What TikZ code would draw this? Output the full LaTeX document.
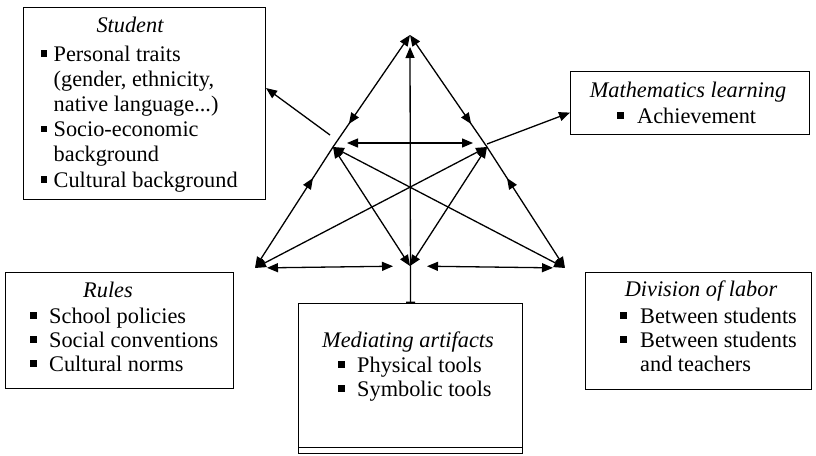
\documentclass[tikz,border=0pt]{standalone}
\usepackage{fontspec}
\setmainfont{Liberation Serif}
\usetikzlibrary{arrows.meta,calc,decorations.markings}
\newcommand\bul[1]{\rule[4.5pt]{6.5pt}{6.5pt}\hspace*{#1}}
\newcommand\bigfont{\fontsize{22.3}{25}\selectfont}
\tikzset{
  ln/.style={line width=1.3pt, draw=black},
  arr/.style={-{Triangle[length=11pt,width=9pt]}},
  arrboth/.style={{Triangle[length=11pt,width=9pt]}-{Triangle[length=11pt,width=9pt]}},
  tipat/.style={postaction=decorate, decoration={markings, mark=at position #1 with {\arrowreversed{Triangle[length=11pt,width=9pt]}}}},
  boxnode/.style={draw, line width=1pt, anchor=north west, inner sep=0pt},
  ttl/.style={anchor=base, inner sep=0pt, font=\bigfont\itshape},
  itm/.style={anchor=base west, inner sep=0pt, font=\bigfont},
}
\begin{document}
\begin{tikzpicture}[x=1pt, y=-1pt]
\useasboundingbox (0,0) rectangle (816,455);
% boxes
\node[boxnode, minimum width=242pt, minimum height=192pt] (student) at (23,7) {};
\node[boxnode, minimum width=239pt, minimum height=63pt] (math) at (570,71) {};
\node[boxnode, minimum width=228pt, minimum height=116pt] (rules) at (5,272) {};
\node[boxnode, minimum width=226pt, minimum height=117pt] (div) at (585,272) {};
\node[boxnode, minimum width=224pt, minimum height=150pt] (med) at (298,303) {};
\draw[line width=1pt] ($(med.south west)+(0,-7)$) -- ($(med.south east)+(0,-7)$);
% Student text
\node[ttl] (st0) at (130,32) {Student};
\node[itm] (st1) at (40.5,61) {\bul{6.5pt}Personal traits};
\node[itm] (st2) at (53.5,86.2) {(gender, ethnicity,};
\node[itm] (st3) at (53.5,111.4) {native language...)};
\node[itm] (st4) at (40.5,136.6) {\bul{6.5pt}Socio-economic};
\node[itm] (st5) at (53.5,161.8) {background};
\node[itm] (st6) at (40.5,187) {\bul{6.5pt}Cultural background};
% Math text
\node[ttl] (mt0) at (688,97) {Mathematics learning};
\node[itm] (mt1) at (617,123) {\bul{13.5pt}Achievement};
% Rules text
\node[ttl] (rt0) at (108,297) {Rules};
\node[itm] (rt1) at (30,323) {\bul{12.5pt}School policies};
\node[itm] (rt2) at (30,347) {\bul{12.5pt}Social conventions};
\node[itm] (rt3) at (30,371) {\bul{12.5pt}Cultural norms};
% Division text
\node[ttl] (dt0) at (701,296) {Division of labor};
\node[itm] (dt1) at (620,323) {\bul{13.5pt}Between students};
\node[itm] (dt2) at (620,347) {\bul{13.5pt}Between students};
\node[itm] (dt3) at (640,371) {and teachers};
% Mediating text
\node[ttl] (md0) at (408,347) {Mediating artifacts};
\node[itm] (md1) at (338,372) {\bul{12.5pt}Physical tools};
\node[itm] (md2) at (338,396) {\bul{12.5pt}Symbolic tools};
% triangle points
\coordinate (T) at (410,35);
\coordinate (L) at (333,147);
\coordinate (R) at (487,147);
\coordinate (BL) at (255,268);
\coordinate (BM) at (410,266);
\coordinate (BR) at (565,268);
\coordinate (sa) at (330,135);
% connectors
\draw[ln, arr, tipat=28pt] (L) -- (T);
\draw[ln, arr, tipat=28pt] (R) -- (T);
\draw[ln, arr, tipat=37pt] (L) -- (BL);
\draw[ln, arr, tipat=37pt] (R) -- (BR);
\draw[ln, arrboth] (L) -- (BM);
\draw[ln, arrboth] (R) -- (BM);
\draw[ln, arrboth] (L) -- (BR);
\draw[ln, arrboth] (R) -- (BL);
\draw[ln, arrboth, shorten <=14pt, shorten >=14pt] ([yshift=4pt]L) -- ([yshift=4pt]R);
\draw[ln, arrboth, shorten <=12pt, shorten >=17pt] (BL) -- (BM);
\draw[ln, arrboth, shorten <=12pt, shorten >=17pt] (BR) -- (BM);
\draw[ln, {Bar[width=9pt]}-{Triangle[length=11pt,width=9pt]}, shorten >=12pt] (med.north) -- (T);
\draw[ln, arr] (sa) -- ($(student.north east)!0.42!(student.south east)$);
\draw[ln, arr] ([yshift=3pt]R) -- ($(math.north west)!0.65!(math.south west)$);
\end{tikzpicture}
\end{document}
